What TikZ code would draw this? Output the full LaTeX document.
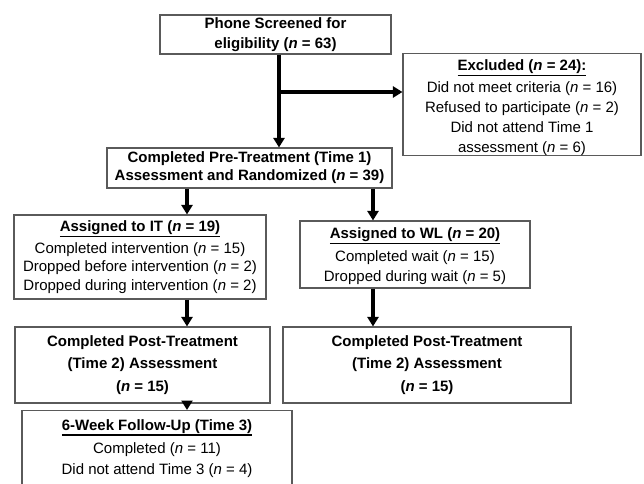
\documentclass[tikz,border=0pt]{standalone}
\usepackage{fontspec}
\setmainfont{Liberation Sans}
\usetikzlibrary{arrows.meta}
\definecolor{boxgray}{RGB}{90,90,90}
\newcommand\myul[1]{\setbox0\hbox{#1}\rlap{\vrule height -4.3pt depth 5.8pt width \wd0}\box0}
\newcommand\nn{\textit{n}}
\begin{document}
\begin{tikzpicture}[x=1pt,y=-1pt,
  box/.style={draw=boxgray, line width=1.1pt, inner sep=0pt, align=center,
    font=\fontsize{15}{20}\selectfont},
  arr/.style={line width=3.2pt, -{Triangle[width=11pt,length=9.5pt]}},
]
\useasboundingbox (0,0) rectangle (644,483);
\clip (0,0) rectangle (644,483);

\node[box, minimum width=231pt, minimum height=39pt] (b1) at (275.5,34.5)
  {\textbf{Phone Screened for}\\\textbf{eligibility (\nn{} = 63)}};

\node[box, minimum width=238pt, minimum height=100pt, font=\fontsize{15}{20}\selectfont] (excl) at (522,104.5)
  {\rule{0pt}{17pt}\myul{\textbf{Excluded (\nn{} = 24):}}\\[2pt]
   Did not meet criteria (\nn{} = 16)\\
   Refused to participate (\nn{} = 2)\\
   Did not attend Time 1\\
   assessment (\nn{} = 6)};

\node[box, minimum width=285pt, minimum height=40pt, font=\fontsize{15}{18}\selectfont] (pre) at (249.5,168)
  {\textbf{Completed Pre-Treatment (Time 1)}\\\textbf{Assessment and Randomized (\nn{} = 39)}};

\node[box, minimum width=252pt, minimum height=84pt, font=\fontsize{15}{18.5}\selectfont] (it) at (140,257)
  {\myul{\textbf{Assigned to IT (\nn{} = 19)}}\\[3pt]
   Completed intervention (\nn{} = 15)\\
   Dropped before intervention (\nn{} = 2)\\
   Dropped during intervention (\nn{} = 2)};

\node[box, minimum width=230pt, minimum height=67pt] (wl) at (415,254.5)
  {\rule{0pt}{14pt}\myul{\textbf{Assigned to WL (\nn{} = 20)}}\\[3pt]
   Completed wait (\nn{} = 15)\\
   Dropped during wait (\nn{} = 5)};

\node[box, minimum width=255pt, minimum height=76pt, font=\fontsize{15}{22.5}\selectfont] (postl) at (142.5,365)
  {\textbf{Completed Post-Treatment}\\\textbf{(Time 2) Assessment}\\\textbf{(\nn{} = 15)}};

\node[box, minimum width=288pt, minimum height=76pt, font=\fontsize{15}{22.5}\selectfont] (postr) at (427,365)
  {\textbf{Completed Post-Treatment}\\\textbf{(Time 2) Assessment}\\\textbf{(\nn{} = 15)}};

\node[box, minimum width=270pt, minimum height=100pt, anchor=north] (fu) at (157,410) {};
\node[align=center, anchor=north, inner sep=0pt, font=\fontsize{15}{20.5}\selectfont] (futext) at ([yshift=-9pt]fu.north)
  {\myul{\textbf{6-Week Follow-Up (Time 3)}}\\[3pt]
   Completed (\nn{} = 11)\\
   Did not attend Time 3 (\nn{} = 4)};

\coordinate (j) at (279,92);
\coordinate (cl) at (187,0);
\coordinate (cr) at (373,0);

\draw[arr] (b1.south -| j) -- (pre.north -| j);
\draw[arr] (j) -- (excl.west |- j);
\draw[arr] (pre.south -| cl) -- (it.north -| cl);
\draw[arr] (pre.south -| cr) -- (wl.north -| cr);
\draw[arr] (it.south -| cl) -- (postl.north -| cl);
\draw[arr] (wl.south -| cr) -- (postr.north -| cr);
\draw[arr] (postl.south -| cl) -- (fu.north -| cl);
\end{tikzpicture}
\end{document}
